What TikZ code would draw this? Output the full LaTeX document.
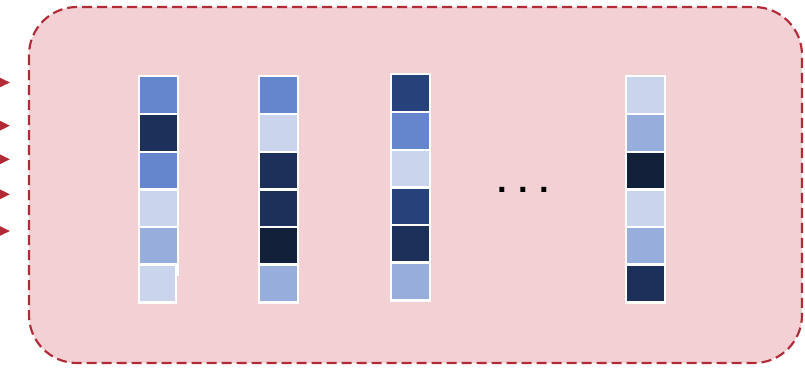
\documentclass[tikz,border=0pt]{standalone}
\usepackage{fontspec}
\setmainfont{Liberation Sans}
\definecolor{framered}{HTML}{B22A35}
\definecolor{framefill}{HTML}{F2D0D3}
\definecolor{cL}{HTML}{CAD4EC}
\definecolor{cML}{HTML}{97AEDC}
\definecolor{cM}{HTML}{6585CD}
\definecolor{cDM}{HTML}{27427B}
\definecolor{cD}{HTML}{1D305A}
\definecolor{cDD}{HTML}{13203A}
\tikzset{
  cell/.style={rectangle, draw=white, line width=1.6pt, inner sep=0pt,
    minimum width=29.25pt, minimum height=28.5pt},
  frame/.style={draw=framered, fill=framefill, line width=1.6pt,
    dash pattern=on 7.5pt off 3.75pt, rounded corners=36pt},
  tip/.style={fill=framered}
}
\begin{document}
\begin{tikzpicture}[x=0.75pt,y=-0.75pt]
\useasboundingbox (0,0) rectangle (805,368);
% frame
\draw[frame] (29,7) rectangle (802,363);
% arrow tips entering from the left
\foreach \yy in {82.5,125.7,159.3,194.3,231} {
  \fill[tip] (-3,\yy-6.3) -- (9.8,\yy) -- (-3,\yy+6.3) -- cycle;
}
% column 1
\node[cell, fill=cM] (a1) at (158.5,95) {};
\node[cell, fill=cD] (a2) at (158.5,133) {};
\node[cell, fill=cM] (a3) at (158.5,171) {};
\node[cell, fill=cL] (a4) at (158.5,208.5) {};
\node[cell, fill=cML, minimum height=36pt] (a5) at (158.5,251) {};
\node[cell, fill=cL, minimum width=27.75pt] (a6) at (157.7,283.5) {};
% column 2
\node[cell, fill=cM] (b1) at (278.5,95) {};
\node[cell, fill=cL] (b2) at (278.5,133) {};
\node[cell, fill=cD] (b3) at (278.5,171) {};
\node[cell, fill=cD] (b4) at (278.5,208.5) {};
\node[cell, fill=cDD] (b5) at (278.5,246) {};
\node[cell, fill=cML] (b6) at (278.5,283.5) {};
% column 3
\node[cell, fill=cDM] (c1) at (410.8,93) {};
\node[cell, fill=cM] (c2) at (410.8,131) {};
\node[cell, fill=cL] (c3) at (410.8,169) {};
\node[cell, fill=cDM] (c4) at (410.8,206.5) {};
\node[cell, fill=cD] (c5) at (410.8,244) {};
\node[cell, fill=cML] (c6) at (410.8,281.5) {};
% column 4
\node[cell, fill=cL] (d1) at (645.5,95) {};
\node[cell, fill=cML] (d2) at (645.5,133) {};
\node[cell, fill=cDD] (d3) at (645.5,171) {};
\node[cell, fill=cL] (d4) at (645.5,208.5) {};
\node[cell, fill=cML] (d5) at (645.5,246) {};
\node[cell, fill=cD] (d6) at (645.5,283.5) {};
% dots
\node[font=\bfseries\fontsize{26}{30}\selectfont, inner sep=0pt, anchor=base] (dots) at (523.3,192) {.\,\,.\,\,.};
\end{tikzpicture}
\end{document}
